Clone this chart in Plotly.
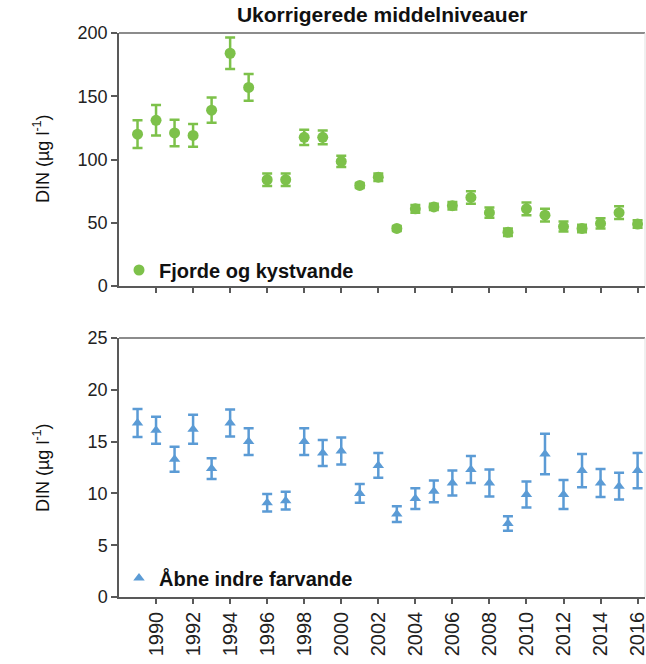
import plotly.graph_objects as go

years = list(range(1989, 2017))

fjord_din = [120, 131, 121, 119, 139, 184, 157, 84, 84, 117.5, 117.5, 98.5, 79.5, 86,
             45.5, 61, 62.5, 63.5, 70, 58, 42.5, 61, 56, 47, 45.5, 49.5, 58, 49]
fjord_err = [11, 12, 10.5, 9, 10, 12.5, 10.5, 5, 5, 6, 5.5, 4.5, 2, 3,
             2, 3, 2.5, 3, 5, 4, 3, 5, 5, 4, 3, 4, 5, 3]

open_din = [16.8, 16.1, 13.3, 16.2, 12.4, 16.8, 15.0, 9.1, 9.3, 15.0, 13.9, 14.1, 10.0, 12.7,
            8.0, 9.5, 10.2, 11.0, 12.3, 11.0, 7.1, 9.9, 13.8, 9.9, 12.2, 11.0, 10.7, 12.2]
open_err = [1.35, 1.3, 1.2, 1.4, 1.0, 1.3, 1.3, 0.85, 0.85, 1.3, 1.25, 1.3, 0.9, 1.2,
            0.75, 1.0, 1.05, 1.2, 1.3, 1.3, 0.7, 1.25, 1.95, 1.4, 1.6, 1.35, 1.3, 1.7]

xtick_vals = list(range(1990, 2017, 2))
xtick_text = [str(v) for v in xtick_vals]

GREEN = "#7dc14a"
BLUE = "#5b9bd5"
FONT = "Liberation Sans, Arial, sans-serif"
AXC = "#595959"

fig = go.Figure()
fig.add_trace(go.Scatter(
    x=years, y=fjord_din, mode="markers", name="<b>Fjorde og kystvande</b>",
    marker=dict(symbol="circle", size=11, color=GREEN),
    error_y=dict(type="data", array=fjord_err, visible=True, color=GREEN, thickness=2.5, width=5),
    xaxis="x", yaxis="y", legend="legend",
))
fig.add_trace(go.Scatter(
    x=years, y=open_din, mode="markers", name="<b>Åbne indre farvande</b>",
    marker=dict(symbol="triangle-up", size=10, color=BLUE),
    error_y=dict(type="data", array=open_err, visible=True, color=BLUE, thickness=2.5, width=5),
    xaxis="x2", yaxis="y2", legend="legend2",
))

H = 664
top_px, bot_px = 33, 597
ph = bot_px - top_px
def py(p):
    return (bot_px - p) / ph

xcommon = dict(range=[1988.0, 2016.4], tickvals=xtick_vals, ticktext=xtick_text,
               showline=True, linecolor=AXC, linewidth=1.5, ticks="outside",
               ticklen=5, tickwidth=1.5, tickcolor=AXC, showgrid=False, zeroline=False,
               automargin=False, ticklabeloverflow="allow",
               tickfont=dict(family=FONT, size=20, color="#222"))
ycommon = dict(showline=True, linecolor=AXC, linewidth=1.5, ticks="outside",
               ticklen=6, tickwidth=1.5, tickcolor=AXC, showgrid=False, zeroline=False,
               automargin=False,
               tickfont=dict(family=FONT, size=18, color="#222"))

fig.update_layout(
    width=646, height=H,
    margin=dict(l=119, r=1, t=top_px, b=H - bot_px),
    paper_bgcolor="white", plot_bgcolor="white",
    showlegend=True,
    xaxis=dict(**xcommon, anchor="y", showticklabels=False),
    yaxis=dict(**ycommon, domain=[py(286), 1], range=[0, 200], tickvals=[0, 50, 100, 150, 200]),
    xaxis2=dict(**xcommon, anchor="y2", tickangle=-90),
    yaxis2=dict(**ycommon, domain=[0, py(338)], range=[0, 25], tickvals=[0, 5, 10, 15, 20, 25]),
    legend=dict(x=0.0, xanchor="left", y=py(270), yanchor="middle", bgcolor="rgba(0,0,0,0)",
                font=dict(family=FONT, size=20, color="#111"), borderwidth=0),
    legend2=dict(x=0.0, xanchor="left", y=py(578), yanchor="middle", bgcolor="rgba(0,0,0,0)",
                 font=dict(family=FONT, size=20, color="#111"), borderwidth=0),
    title=dict(text="<b>Ukorrigerede middelniveauer</b>", x=0.5917, xanchor="center",
               y=1 - 15 / H, yanchor="middle", automargin=False,
               font=dict(family=FONT, size=21, color="#111")),
)

# frame lines (top and right) of each panel
for xr, yr in [("x", "y"), ("x2", "y2")]:
    fig.add_shape(type="line", xref=f"{xr} domain", yref=f"{yr} domain", x0=0, x1=1, y0=1, y1=1,
                  line=dict(color="#8c8c8c", width=2))
    fig.add_shape(type="line", xref=f"{xr} domain", yref=f"{yr} domain", x0=1, x1=1, y0=0, y1=1,
                  line=dict(color="#e0e0e0", width=1))

ylab = "DIN (µg l<sup>-1</sup>)"
for ycenter in [py(159), py(468)]:
    fig.add_annotation(text=ylab, xref="paper", yref="paper", x=(41 - 119) / 526, y=ycenter,
                       xanchor="center", yanchor="middle", textangle=-90, showarrow=False,
                       font=dict(family=FONT, size=18, color="#111"))

fig.write_html("out.html",
               config={"displayModeBar": False},
               post_script="document.body.style.margin='0';document.body.style.padding='0';"
                           "document.body.style.overflow='hidden';")
